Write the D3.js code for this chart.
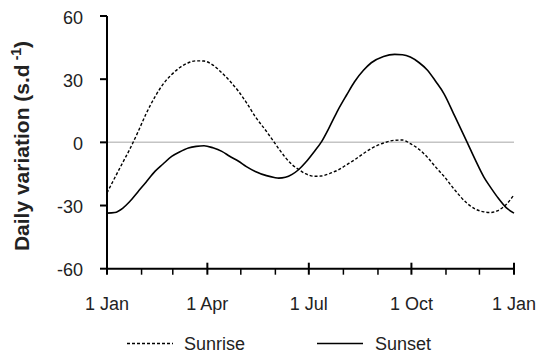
<!DOCTYPE html>
<html>
<head>
<meta charset="utf-8">
<script src="https://cdn.jsdelivr.net/npm/d3@7"></script>
<style>
  html, body { margin: 0; padding: 0; background: #fff; }
  svg { display: block; }
  text { font-family: "Liberation Sans", Arial, sans-serif; fill: #222; }
</style>
</head>
<body>
<svg id="chart" width="536" height="354"></svg>
<script>
// Day of year (0 = 1 Jan)
const days = [0, 7, 14, 20, 28, 35, 43, 50, 58, 65, 73, 80, 87, 95, 103, 110, 118, 125, 133, 143, 150, 154, 160, 166, 172, 178, 186, 192, 200, 207, 215, 222, 230, 237, 248, 258, 265, 272, 280, 287, 295, 302, 312, 323, 330, 338, 344, 350, 358, 365];
// Daily variation of sunrise time (s/day)
const sunrise = [-24, -16.8, -9.7, -3.7, 5.2, 13.5, 21.6, 27.4, 32.2, 35.4, 37.8, 38.7, 38.6, 36.7, 33, 29.2, 24.2, 18.9, 12.2, 5.2, 0, -3, -7.2, -10.6, -12.9, -14.9, -16.1, -16, -14.7, -13.2, -10.6, -8.3, -5.3, -2.9, -0.3, 1, 1.1, -0.6, -3.4, -6.9, -11.9, -16, -22.7, -29, -31.6, -33, -33.3, -32.5, -29.5, -24.9];
// Daily variation of sunset time (s/day)
const sunset = [-33.6, -33.3, -31.3, -28.3, -23.3, -18.9, -13.8, -10.4, -6.7, -4.6, -2.7, -1.9, -1.6, -2.6, -4.3, -6.6, -9, -11.5, -13.8, -15.8, -16.7, -17, -16.6, -15.2, -12.9, -9.6, -4.3, 0, 7.8, 15.2, 22.6, 28.8, 34.2, 37.8, 40.8, 41.8, 41.6, 40.5, 37.8, 34.5, 28.8, 23.3, 12.3, 0, -8, -16.5, -21.4, -25.9, -31, -33.6];

const yTicks = [-60, -30, 0, 30, 60];
const xTickLabels = ["1 Jan", "1 Apr", "1 Jul", "1 Oct", "1 Jan"];
const seriesNames = ["Sunrise", "Sunset"];

const svg = d3.select("#chart");
const start = new Date(2001, 0, 1), end = new Date(2002, 0, 1);
const x = d3.scaleTime().domain([start, end]).range([107, 514]);
const y = d3.scaleLinear().domain([-60, 60]).range([268.7, 16]);
const toDate = d => d3.timeDay.offset(start, d);

// zero line
svg.append("line")
  .attr("x1", x(start)).attr("x2", x(end))
  .attr("y1", y(0)).attr("y2", y(0))
  .attr("stroke", "#c4c4c4").attr("stroke-width", 1.5);

// Y axis
const yAxis = svg.append("g");
yAxis.append("line").attr("x1", x(start)).attr("x2", x(start))
  .attr("y1", y(60)).attr("y2", y(-60)).attr("stroke", "#000").attr("stroke-width", 2);
yTicks.forEach(t => {
  yAxis.append("line").attr("x1", x(start) - 7).attr("x2", x(start))
    .attr("y1", y(t)).attr("y2", y(t)).attr("stroke", "#000").attr("stroke-width", 2);
  yAxis.append("text").attr("x", 83).attr("y", y(t)).attr("dy", "0.42em")
    .attr("text-anchor", "end").attr("font-size", 18).text(t);
});

// X axis
const xAxis = svg.append("g");
xAxis.append("line").attr("x1", x(start) - 1).attr("x2", x(end) + 1)
  .attr("y1", y(-60)).attr("y2", y(-60)).attr("stroke", "#000").attr("stroke-width", 2);
const months = d3.timeMonth.range(start, d3.timeDay.offset(end, 1));
months.forEach((m, i) => {
  const major = i % 3 === 0;
  xAxis.append("line").attr("x1", x(m)).attr("x2", x(m))
    .attr("y1", y(-60) + (major ? -6 : 0)).attr("y2", y(-60) + 6)
    .attr("stroke", "#000").attr("stroke-width", major ? 2 : 1.5);
  if (major) {
    xAxis.append("text").attr("x", x(m)).attr("y", 310)
      .attr("text-anchor", "middle").attr("font-size", 18).text(xTickLabels[i / 3]);
  }
});

// Y title
const title = svg.append("text")
  .attr("transform", "translate(29,146) rotate(-90)")
  .attr("text-anchor", "middle").attr("font-size", 21).attr("font-weight", "bold");
title.append("tspan").text("Daily variation (s.d");
title.append("tspan").attr("font-size", 14).attr("dy", -8).attr("dx", 4).text("-1");
title.append("tspan").attr("dy", 8).text(")");

// Curves
const line = d3.line()
  .x((d, i) => x(toDate(days[i])))
  .y(d => y(d))
  .curve(d3.curveMonotoneX);

svg.append("path").datum(sunrise).attr("d", line)
  .attr("fill", "none").attr("stroke", "#000").attr("stroke-width", 1.4)
  .attr("stroke-dasharray", "3,2");
svg.append("path").datum(sunset).attr("d", line)
  .attr("fill", "none").attr("stroke", "#000").attr("stroke-width", 1.6);

// Legend
const legend = [
  { name: seriesNames[0], x1: 127, x2: 173, tx: 184, dash: "3,2", w: 1.4 },
  { name: seriesNames[1], x1: 317, x2: 363, tx: 375, dash: null, w: 1.6 }
];
legend.forEach(l => {
  svg.append("line").attr("x1", l.x1).attr("x2", l.x2).attr("y1", 343.5).attr("y2", 343.5)
    .attr("stroke", "#000").attr("stroke-width", l.w).attr("stroke-dasharray", l.dash);
  svg.append("text").attr("x", l.tx).attr("y", 350).attr("font-size", 18).text(l.name);
});
</script>
</body>
</html>
